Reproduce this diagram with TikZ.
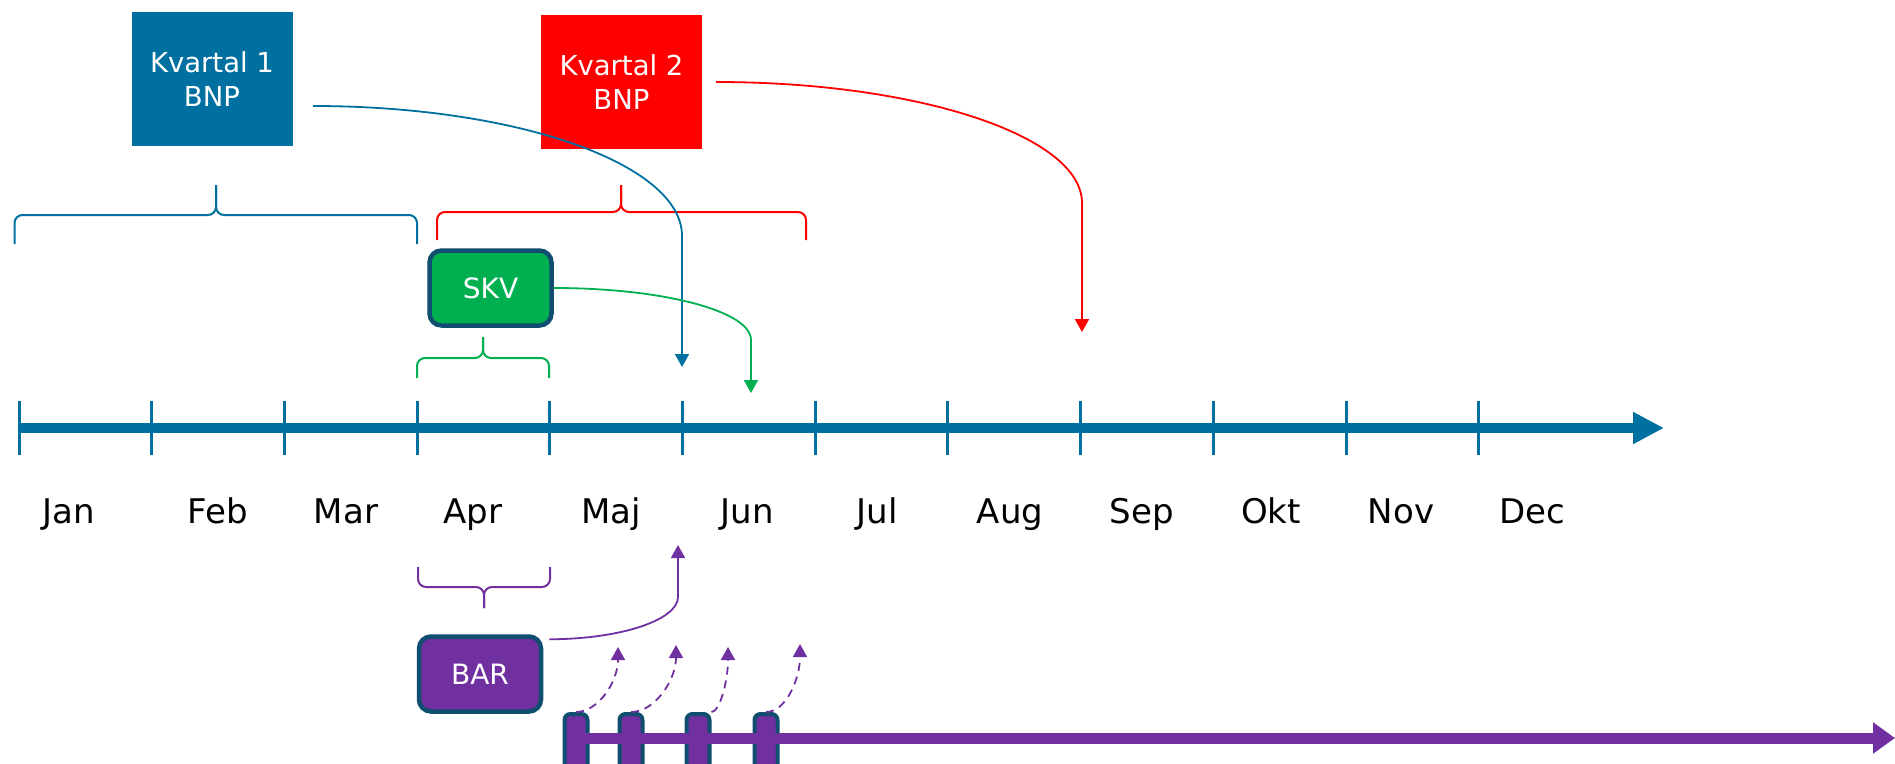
\documentclass[tikz,border=0pt]{standalone}
\usepackage{fontspec}
\setmainfont{DejaVu Sans}
\definecolor{axisblue}{RGB}{0,112,160}
\definecolor{qred}{RGB}{255,0,0}
\definecolor{skvgreen}{RGB}{0,176,80}
\definecolor{barpurple}{RGB}{112,48,160}
\definecolor{edgeblue}{RGB}{16,78,112}
\usepackage{tikz}
\usetikzlibrary{arrows.meta, positioning}

\begin{document}
\begin{tikzpicture}[x=1pt, y=-1pt,
  quarter/.style={minimum width=161pt, minimum height=134pt, inner sep=0pt, text=white, align=center, font=\fontsize{27.5}{34}\selectfont},
  agency/.style={draw=edgeblue, line width=4.5pt, rounded corners=12pt, minimum width=122pt, minimum height=75pt, inner sep=0pt, text=white, font=\fontsize{28}{34}\selectfont},
  month/.style={anchor=base, font=\fontsize{34}{40}\selectfont},
  release/.style={draw=edgeblue, fill=barpurple, line width=4pt, rounded corners=6pt, minimum width=23pt, minimum height=60pt, inner sep=0pt},
  flow/.style={line width=1.8pt, -{Triangle[length=13pt, width=14pt]}},
  bracket/.style={line width=2pt, rounded corners=8pt}
]
  \useasboundingbox (0,0) rectangle (1895,763);

  % Time axis with month ticks
  \coordinate (axstart) at (19,428);
  \coordinate (axend) at (1664,428);
  \draw[axisblue, line width=10pt, -{Triangle[length=31pt, width=30pt]}] (axstart) -- (axend);
  \foreach \k in {0,...,11}
    \draw[axisblue, line width=3pt] ({19+132.7*\k},401) -- ({19+132.7*\k},455);
  \foreach \m/\x in {Jan/69, Feb/218, Mar/346, Apr/473, Maj/611, Jun/747, Jul/877, Aug/1010, Sep/1142, Okt/1271, Nov/1401, Dec/1532}
    \node[month] (m-\m) at (\x,523) {\m};

  % Sources
  \node[quarter, fill=axisblue] (q1) at (212,79) {Kvartal 1\\BNP};
  \node[quarter, fill=qred] (q2) at (621.5,82) {Kvartal 2\\BNP};
  \node[agency, fill=skvgreen] (skv) at (490.5,288) {SKV};
  \node[agency, fill=barpurple] (bar) at (480,674) {BAR};

  % Braces over the periods
  \foreach \xa/\xb/\xm/\yl/\ye/\yt/\col in {14.5/417/216/215/244/185/axisblue, 437/806/621/212/240/185/qred, 417/549/483/358/378/337/skvgreen, 418/550/484/587/567/608/barpurple}
  {
    \draw[bracket, \col] (\xa,\ye) |- (\xm,\yl) -- (\xm,\yt);
    \draw[bracket, \col] (\xb,\ye) |- (\xm,\yl) -- (\xm,\yt);
  }

  % Publication arrows
  \coordinate (q1out) at (313,106);
  \coordinate (q1bend) at (682,236);
  \coordinate (q1in) at (682,367);
  \draw[flow, axisblue] (q1out) .. controls +(204,0) and +(0,-72) .. (q1bend) -- (q1in);

  \coordinate (q2bend) at (1082,203);
  \coordinate (q2in) at (1082,332);
  \draw[flow, qred] ([xshift=14pt]q2.east) .. controls +(202,0) and +(0,-67) .. (q2bend) -- (q2in);

  \coordinate (skvbend) at (751,340);
  \coordinate (skvin) at (751,393);
  \draw[flow, skvgreen] (skv.east) .. controls +(109,0) and +(0,-29) .. (skvbend) -- (skvin);

  \coordinate (barbend) at (678,597);
  \coordinate (barin) at (678,545);
  \draw[flow, barpurple] ([xshift=6pt, yshift=-5pt]bar.north east) .. controls +(71,0) and +(0,23) .. (barbend) -- (barin);

  % Second axis with monthly releases
  \foreach \i/\x in {1/576, 2/631, 3/698, 4/766}
    \node[release] (r\i) at (\x,744) {};
  \coordinate (pstart) at (568,738);
  \coordinate (pend) at (1895,738);
  \draw[barpurple, line width=11pt, -{Triangle[length=22pt, width=30pt]}] (pstart) -- (pend);

  \foreach \i/\anc/\dx/\tx/\ty in {1/north/22/618/647, 2/north/24/676/645, 3/north east/8/728/647, 4/north/20/800/644}
  {
    \coordinate (p\i) at (\tx,\ty);
    \draw[flow, barpurple, dashed, dash pattern=on 8pt off 6pt] (r\i.\anc) .. controls +(\dx,0) and +(0,35) .. (p\i);
  }
\end{tikzpicture}
\end{document}
